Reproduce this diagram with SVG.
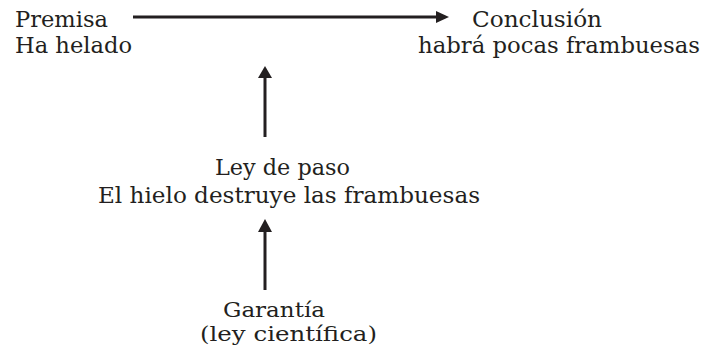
<svg xmlns="http://www.w3.org/2000/svg" width="709" height="351" viewBox="0 0 709 351">
<style>
text{font-family:"DejaVu Serif","Liberation Serif",serif;font-size:22.5px;fill:#231f20}
#garantia text{font-size:20.5px}
.c{stroke:#231f20;stroke-width:3;fill:none}
.h{fill:#231f20}
</style>
<rect width="709" height="351" fill="#fff"/>
<g id="premisa"><text x="15" y="27" textLength="93" lengthAdjust="spacingAndGlyphs">Premisa</text><text x="15" y="53" textLength="117" lengthAdjust="spacingAndGlyphs">Ha helado</text></g>
<g id="conclusion"><text x="472" y="27" textLength="130" lengthAdjust="spacingAndGlyphs">Conclusión</text><text x="418" y="53" textLength="282" lengthAdjust="spacingAndGlyphs">habrá pocas frambuesas</text></g>
<g id="ley"><text x="215" y="175" textLength="135" lengthAdjust="spacingAndGlyphs">Ley de paso</text><text x="98" y="203" textLength="382" lengthAdjust="spacingAndGlyphs">El hielo destruye las frambuesas</text></g>
<g id="garantia"><text x="223" y="317" textLength="102" lengthAdjust="spacingAndGlyphs">Garantía</text><text x="200" y="341" textLength="177" lengthAdjust="spacingAndGlyphs">(ley científica)</text></g>
<g id="connectors">
<line class="c" x1="133" y1="17" x2="438" y2="17"/><polygon class="h" points="449,17 436,11 436,23"/>
<line class="c" x1="265" y1="137" x2="265" y2="76"/><polygon class="h" points="265,66 258,78 272,78"/>
<line class="c" x1="265" y1="290" x2="265" y2="230"/><polygon class="h" points="265,219 258,232 272,232"/>
</g>
</svg>
